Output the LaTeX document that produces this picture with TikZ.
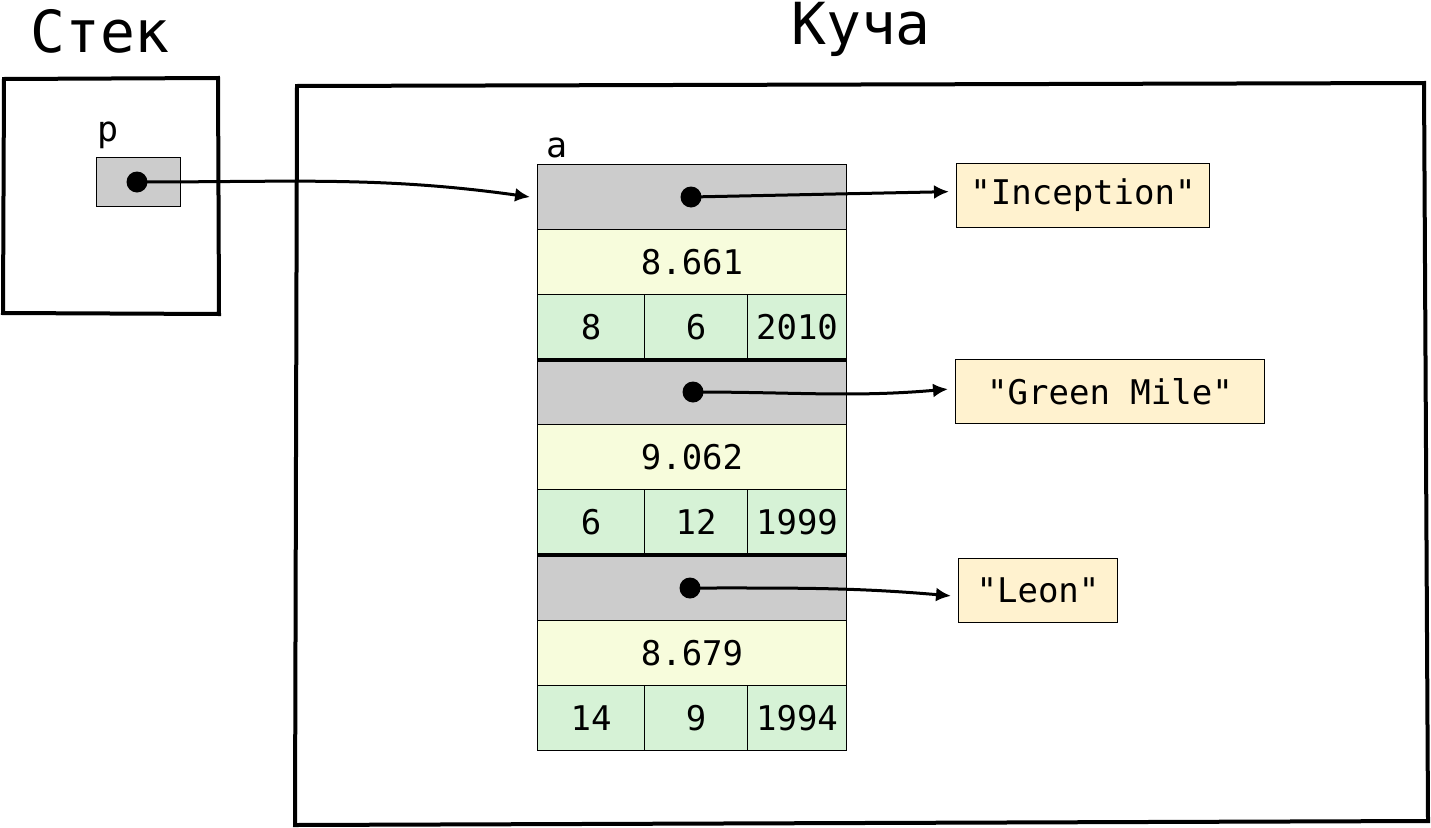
\documentclass[tikz,border=0pt]{standalone}
\usepackage{fontspec}
\setmonofont{DejaVu Sans Mono}
\usetikzlibrary{arrows.meta}
\definecolor{ptrgray}{HTML}{CCCCCC}
\definecolor{numyellow}{HTML}{F7FCDC}
\definecolor{dategreen}{HTML}{D6F2D6}
\definecolor{strbeige}{HTML}{FFF2CF}
\tikzstyle{cell} = [
    rectangle,
    draw=black,
    line width=1pt,
    inner sep=0pt,
    anchor=north west,
    minimum height=65pt,
    font=\fontsize{34}{40}\selectfont\ttfamily
]
\tikzstyle{ptrcell} = [cell, fill=ptrgray, minimum width=309pt]
\tikzstyle{numcell} = [cell, fill=numyellow, minimum width=309pt]
\tikzstyle{datecell} = [cell, fill=dategreen]
\tikzstyle{strbox} = [cell, fill=strbeige, minimum height=64pt]
\tikzstyle{refdot} = [circle, fill=black, inner sep=0pt, minimum size=21pt]
\tikzstyle{arrow} = [line width=3pt, -{Latex[length=15pt,width=14pt]}, shorten >=7pt]
\tikzstyle{frame} = [line width=4pt, line join=miter]
\tikzstyle{sepline} = [line width=3.5pt]
\tikzstyle{title} = [anchor=base west, inner sep=0pt, font=\fontsize{58}{64}\selectfont\ttfamily]
\tikzstyle{varname} = [anchor=base west, inner sep=0pt, font=\fontsize{35}{40}\selectfont\ttfamily]
\begin{document}
\begin{tikzpicture}[x=1pt, y=-1pt]
\useasboundingbox (0,0) rectangle (1431,827);

% titles
\node (stacktitle) [title] at (30,52) {Стек};
\node (heaptitle) [title] at (791,44) {Куча};

% stack and heap frames
\draw [frame] (4,79) -- (218,78) -- (219,314) -- (3,313) -- cycle;
\draw [frame] (297,86) -- (1424,83) -- (1428,821) -- (295,825) -- cycle;

% stack variable
\node (pname) [varname] at (97,141) {p};
\node (pbox) [cell, fill=ptrgray, minimum width=84pt, minimum height=49pt] at (96,157) {};

% array in the heap
\node (aname) [varname] at (546,157) {a};

\node (ptr1) [ptrcell] at (537,164) {};
\node (num1) [numcell] at (537,229) {8.661};
\node (day1) [datecell, minimum width=107pt] at (537,294) {8};
\node (month1) [datecell, minimum width=103pt] at (644,294) {6};
\node (year1) [datecell, minimum width=99pt] at (747,294) {2010};

\node (ptr2) [ptrcell] at (537,359) {};
\node (num2) [numcell] at (537,424) {9.062};
\node (day2) [datecell, minimum width=107pt] at (537,489) {6};
\node (month2) [datecell, minimum width=103pt] at (644,489) {12};
\node (year2) [datecell, minimum width=99pt] at (747,489) {1999};

\node (ptr3) [ptrcell] at (537,555) {};
\node (num3) [numcell] at (537,620) {8.679};
\node (day3) [datecell, minimum width=107pt] at (537,685) {14};
\node (month3) [datecell, minimum width=103pt] at (644,685) {9};
\node (year3) [datecell, minimum width=99pt] at (747,685) {1994};

\draw [sepline] (day1.south west) -- (year1.south east);
\draw [sepline] (day2.south west) -- (year2.south east);

% strings
\node (str1) [strbox, minimum width=253pt] at (956,163) {"Inception"};
\node (str2) [strbox, minimum width=309pt] at (955,359) {"Green Mile"};
\node (str3) [strbox, minimum width=159pt] at (958,558) {"Leon"};

% pointers
\node (pdot) [refdot] at (137,182) {};
\node (dot1) [refdot] at (691,197) {};
\node (dot2) [refdot] at (693,392) {};
\node (dot3) [refdot] at (690,588) {};

\draw [arrow] (pdot.center) to[out=0, in=172] ([yshift=-1pt]ptr1.west);
\draw [arrow] (dot1.center) -- ([yshift=4pt]str1.west);
\draw [arrow] (dot2.center) to[out=0, in=185] ([yshift=3pt]str2.west);
\draw [arrow] (dot3.center) to[out=0, in=175] ([yshift=-6pt]str3.west);

\end{tikzpicture}
\end{document}
